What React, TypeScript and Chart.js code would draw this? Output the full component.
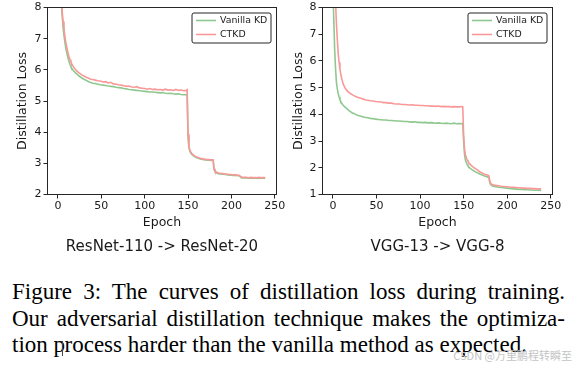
import React, { useEffect, useRef } from "react";
import { Chart, registerables } from "chart.js";

Chart.register(...registerables);

// ---------- data ----------
const epochs = [
  0, 1, 2, 3, 4, 5, 6, 7, 8, 9, 10, 11, 12, 13, 14, 15, 16,
  18, 20, 22, 24, 26, 28, 30, 32, 34, 36, 38, 40,
  43, 46, 49, 52, 55, 58, 61, 64, 67, 70, 73, 76, 79, 82, 85, 88, 91, 94, 97, 100,
  103, 106, 109, 112, 115, 118, 121, 124, 127, 130, 133, 136, 139, 142, 145, 148,
  149, 150, 151, 152, 153, 154, 155, 156,
  158, 160, 162, 164, 166, 168, 170, 172, 174, 176, 178,
  179, 180, 181, 182, 183,
  185, 187,
  190, 193, 196, 199, 202, 205, 208,
  209, 210, 211, 212,
  214, 217, 220, 223, 226, 229, 232, 235, 239,
];

const resnetVanilla = [
  13.5, 11.0, 9.6, 8.7, 8.1, 7.7, 7.35, 7.1, 6.9, 6.72, 6.58, 6.45, 6.35, 6.25, 6.17, 6.1, 6.04,
  5.97, 5.91, 5.86, 5.81, 5.77, 5.73, 5.7, 5.67, 5.64, 5.61, 5.59, 5.57,
  5.56, 5.54, 5.52, 5.51, 5.5, 5.48, 5.47, 5.46, 5.44, 5.43, 5.42, 5.4, 5.39, 5.37, 5.36, 5.35, 5.34, 5.33, 5.32, 5.31,
  5.3, 5.29, 5.29, 5.28, 5.27, 5.26, 5.27, 5.25, 5.24, 5.25, 5.23, 5.22, 5.23, 5.21, 5.2, 5.2,
  5.21, 3.88, 3.52, 3.4, 3.34, 3.3, 3.27, 3.25,
  3.21, 3.18, 3.16, 3.14, 3.13, 3.12, 3.11, 3.1, 3.1, 3.09, 3.09,
  3.09, 2.8, 2.74, 2.71, 2.69,
  2.67, 2.66,
  2.65, 2.64, 2.63, 2.62, 2.61, 2.61, 2.6,
  2.6, 2.57, 2.55, 2.54,
  2.53, 2.53, 2.52, 2.52, 2.52, 2.52, 2.52, 2.52, 2.52,
];

const resnetCtkd = [
  14.0, 11.5, 9.9, 8.9, 8.25, 7.85, 7.55, 7.3, 7.1, 6.9, 6.75, 6.62, 6.5, 6.4, 6.32, 6.25, 6.19,
  6.09, 6.02, 5.96, 5.91, 5.87, 5.83, 5.8, 5.77, 5.75, 5.72, 5.7, 5.69,
  5.67, 5.65, 5.64, 5.61, 5.62, 5.58, 5.6, 5.55, 5.54, 5.52, 5.51, 5.49, 5.47, 5.48, 5.45, 5.44, 5.46, 5.42, 5.41, 5.4,
  5.38, 5.4, 5.37, 5.38, 5.36, 5.37, 5.35, 5.38, 5.35, 5.36, 5.34, 5.37, 5.34, 5.35, 5.33, 5.34,
  5.36, 3.95, 3.56, 3.43, 3.37, 3.33, 3.3, 3.27,
  3.23, 3.2, 3.18, 3.16, 3.15, 3.14, 3.13, 3.12, 3.12, 3.11, 3.11,
  3.11, 2.83, 2.76, 2.73, 2.71,
  2.69, 2.68,
  2.67, 2.66, 2.65, 2.64, 2.63, 2.63, 2.62,
  2.62, 2.59, 2.57, 2.56,
  2.55, 2.55, 2.54, 2.55, 2.54, 2.54, 2.55, 2.54, 2.54,
];

const vggVanilla = [
  8.6, 7.5, 6.4, 5.7, 5.2, 4.95, 4.78, 4.66, 4.56, 4.48, 4.42, 4.37, 4.33, 4.3, 4.27, 4.24, 4.21,
  4.15, 4.1, 4.06, 4.03, 4.0, 3.97, 3.95, 3.93, 3.91, 3.89, 3.88, 3.87,
  3.85, 3.84, 3.82, 3.81, 3.8, 3.79, 3.79, 3.77, 3.77, 3.76, 3.75, 3.75, 3.74, 3.73, 3.73, 3.72, 3.71, 3.72, 3.7, 3.7,
  3.69, 3.7, 3.68, 3.69, 3.68, 3.67, 3.68, 3.67, 3.66, 3.67, 3.66, 3.65, 3.67, 3.65, 3.66, 3.65,
  3.66, 3.0, 2.5, 2.3, 2.2, 2.13, 2.07, 2.03,
  1.97, 1.92, 1.88, 1.84, 1.81, 1.78, 1.75, 1.72, 1.69, 1.67, 1.65,
  1.64, 1.45, 1.37, 1.34, 1.32,
  1.3, 1.29,
  1.27, 1.26, 1.25, 1.24, 1.23, 1.22, 1.21,
  1.21, 1.2, 1.2, 1.2,
  1.19, 1.19, 1.18, 1.18, 1.17, 1.17, 1.16, 1.16, 1.15,
];

const vggCtkd = [
  12.0, 10.2, 9.0, 8.2, 7.4, 6.8, 6.3, 5.95, 5.7, 5.5, 5.35, 5.22, 5.12, 5.05, 4.98, 4.93, 4.89,
  4.83, 4.78, 4.74, 4.7, 4.67, 4.64, 4.62, 4.6, 4.58, 4.56, 4.54, 4.53,
  4.51, 4.5, 4.48, 4.47, 4.46, 4.44, 4.44, 4.42, 4.42, 4.4, 4.39, 4.39, 4.37, 4.37, 4.36, 4.35, 4.36, 4.34, 4.34, 4.33,
  4.33, 4.32, 4.32, 4.31, 4.31, 4.3, 4.31, 4.29, 4.3, 4.29, 4.29, 4.28, 4.29, 4.28, 4.28, 4.29,
  4.28, 3.2, 2.72, 2.5, 2.38, 2.3, 2.24, 2.19,
  2.11, 2.05, 2.0, 1.96, 1.92, 1.86, 1.82, 1.79, 1.76, 1.74, 1.72,
  1.71, 1.5, 1.42, 1.39, 1.37,
  1.35, 1.34,
  1.33, 1.31, 1.3, 1.29, 1.28, 1.27, 1.27,
  1.26, 1.26, 1.26, 1.25,
  1.25, 1.24, 1.24, 1.23, 1.23, 1.22, 1.22, 1.21, 1.21,
];

const xTicks = [0, 50, 100, 150, 200, 250];
const resnetYTicks = [2, 3, 4, 5, 6, 7, 8];
const vggYTicks = [1, 2, 3, 4, 5, 6, 7, 8];
const seriesLabels = ["Vanilla KD", "CTKD"];
const xTitle = "Epoch";
const yTitle = "Distillation Loss";
const subtitles = ["ResNet-110 -> ResNet-20", "VGG-13 -> VGG-8"];
const captionLine1 = "Figure 3: The curves of distillation loss during training.";
const captionLine2 = "Our adversarial distillation technique makes the optimiza-";
const captionLine3a = "tion p";
const captionLine3b = "rocess harder than the vanilla method as expected.";
const watermark = "CSDN @万里鹏程转瞬至";

// ---------- styles ----------
const GREEN = "#8fc88f";
const RED = "#f99898";
const INK = "#1a1a1a";
const FONT = "'DejaVu Sans', sans-serif";

const framePlugin = {
  id: "frame",
  afterDraw(chart: any) {
    const { ctx, chartArea: a } = chart;
    ctx.save();
    ctx.strokeStyle = "#262626";
    ctx.lineWidth = 1;
    ctx.strokeRect(a.left, a.top, a.right - a.left, a.bottom - a.top);
    ctx.restore();
  },
};

const insideLegendPlugin = {
  id: "insideLegend",
  afterDraw(chart: any) {
    const { ctx, chartArea: a } = chart;
    const w = 79;
    const h = 30;
    const x = a.right - 5.5 - w;
    const y = a.top + 5.5;
    ctx.save();
    ctx.beginPath();
    const r = 2;
    ctx.moveTo(x + r, y);
    ctx.lineTo(x + w - r, y);
    ctx.quadraticCurveTo(x + w, y, x + w, y + r);
    ctx.lineTo(x + w, y + h - r);
    ctx.quadraticCurveTo(x + w, y + h, x + w - r, y + h);
    ctx.lineTo(x + r, y + h);
    ctx.quadraticCurveTo(x, y + h, x, y + h - r);
    ctx.lineTo(x, y + r);
    ctx.quadraticCurveTo(x, y, x + r, y);
    ctx.closePath();
    ctx.fillStyle = "rgba(255,255,255,0.85)";
    ctx.fill();
    ctx.strokeStyle = "#262626";
    ctx.lineWidth = 1;
    ctx.stroke();
    const dsets = chart.data.datasets;
    ctx.font = `9.4px ${FONT}`;
    ctx.textBaseline = "middle";
    ctx.textAlign = "left";
    dsets.forEach((ds: any, i: number) => {
      const ly = y + 7.5 + i * 14;
      ctx.strokeStyle = ds.borderColor;
      ctx.lineWidth = 1.6;
      ctx.beginPath();
      ctx.moveTo(x + 4, ly);
      ctx.lineTo(x + 24, ly);
      ctx.stroke();
      ctx.fillStyle = INK;
      ctx.fillText(ds.label, x + 28, ly);
    });
    ctx.restore();
  },
};

type PanelProps = {
  left: number;
  width: number;
  vanilla: number[];
  ctkd: number[];
  yTicks: number[];
  yAxisWidth: number;
  yTitlePad: number;
  padRight: number;
};

function LossPanel(p: PanelProps) {
  const ref = useRef<HTMLCanvasElement | null>(null);
  useEffect(() => {
    if (!ref.current) return;
    const grid = {
      display: true,
      drawOnChartArea: false,
      drawTicks: true,
      tickLength: 4,
      color: "#262626",
      lineWidth: 1,
    };
    const tickFont = { family: FONT, size: 11, lineHeight: 1 };
    const titleFont = { family: FONT, size: 12.5 };
    const chart = new Chart(ref.current, {
      type: "line",
      data: {
        datasets: [
          {
            label: seriesLabels[0],
            data: epochs.map((e, i) => ({ x: e, y: p.vanilla[i] })),
            borderColor: GREEN,
            borderWidth: 1.6,
            pointRadius: 0,
            tension: 0,
            order: 1,
          },
          {
            label: seriesLabels[1],
            data: epochs.map((e, i) => ({ x: e, y: p.ctkd[i] })),
            borderColor: RED,
            borderWidth: 1.6,
            pointRadius: 0,
            tension: 0,
            order: 0,
          },
        ],
      },
      options: {
        animation: false,
        responsive: false,
        maintainAspectRatio: false,
        devicePixelRatio: 1,
        events: [],
        layout: { padding: { top: 6.5, right: p.padRight, left: 0, bottom: 0 } },
        plugins: {
          legend: { display: false },
          tooltip: { enabled: false },
        },
        scales: {
          x: {
            type: "linear",
            min: -12,
            max: 252,
            afterBuildTicks: (s: any) => {
              s.ticks = xTicks.map((v) => ({ value: v }));
            },
            afterFit: (s: any) => {
              s.height = 65.5;
            },
            ticks: {
              font: tickFont,
              color: INK,
              padding: 2,
              maxRotation: 0,
              autoSkip: false,
            },
            title: {
              display: true,
              text: xTitle,
              font: titleFont,
              color: INK,
              padding: { top: 0, bottom: 29.8 },
            },
            grid,
            border: { display: false },
          },
          y: {
            type: "linear",
            min: p.yTicks[0],
            max: p.yTicks[p.yTicks.length - 1],
            afterBuildTicks: (s: any) => {
              s.ticks = p.yTicks.map((v) => ({ value: v }));
            },
            afterFit: (s: any) => {
              s.width = p.yAxisWidth;
            },
            ticks: { font: tickFont, color: INK, padding: 2 },
            title: {
              display: true,
              text: yTitle,
              font: titleFont,
              color: INK,
              padding: { top: p.yTitlePad, bottom: 0 },
            },
            grid,
            border: { display: false },
          },
        },
      },
      plugins: [framePlugin, insideLegendPlugin],
    } as any);
    return () => chart.destroy();
  }, []);
  return (
    <canvas
      ref={ref}
      width={p.width}
      height={260}
      style={{ position: "absolute", left: p.left, top: 0, width: p.width, height: 260 }}
    />
  );
}

export default function App() {
  const subStyle: React.CSSProperties = {
    position: "absolute",
    top: 237,
    width: 240,
    textAlign: "center",
    fontFamily: FONT,
    fontSize: 15,
    lineHeight: "18px",
    color: INK,
    whiteSpace: "nowrap",
  };
  const capStyle: React.CSSProperties = {
    textAlign: "justify",
    textAlignLast: "justify",
  };
  return (
    <div
      style={{
        position: "absolute",
        left: 0,
        top: 0,
        width: 576,
        height: 369,
        background: "#fff",
        overflow: "hidden",
      }}
    >
      <LossPanel
        left={0}
        width={288}
        vanilla={resnetVanilla}
        ctkd={resnetCtkd}
        yTicks={resnetYTicks}
        yAxisWidth={47.5}
        yTitlePad={15.2}
        padRight={11.5}
      />
      <LossPanel
        left={276}
        width={300}
        vanilla={vggVanilla}
        ctkd={vggCtkd}
        yTicks={vggYTicks}
        yAxisWidth={46.5}
        yTitlePad={14.8}
        padRight={23.5}
      />
      <div style={{ ...subStyle, left: 162 - 120 }}>{subtitles[0]}</div>
      <div style={{ ...subStyle, left: 437.5 - 120 }}>{subtitles[1]}</div>
      <div
        style={{
          position: "absolute",
          left: 12,
          top: 279,
          width: 553,
          fontFamily: "'Liberation Serif', 'Times New Roman', serif",
          fontSize: 23,
          lineHeight: "26.5px",
          color: "#000",
        }}
      >
        <div style={capStyle}>{captionLine1}</div>
        <div style={capStyle}>{captionLine2}</div>
        <div>
          {captionLine3a}
          <span
            style={{
              display: "inline-block",
              width: 0,
              height: 15,
              borderLeft: "1.5px solid #444",
              verticalAlign: -4,
              marginLeft: -3,
              marginRight: 1.5,
            }}
          />
          {captionLine3b}
        </div>
      </div>
      <div
        style={{
          position: "absolute",
          right: 4,
          top: 348,
          fontFamily: "'Noto Sans CJK SC', sans-serif",
          fontSize: 11,
          lineHeight: "14px",
          color: "#c4c4c4",
          whiteSpace: "nowrap",
        }}
      >
        {watermark}
      </div>
    </div>
  );
}
